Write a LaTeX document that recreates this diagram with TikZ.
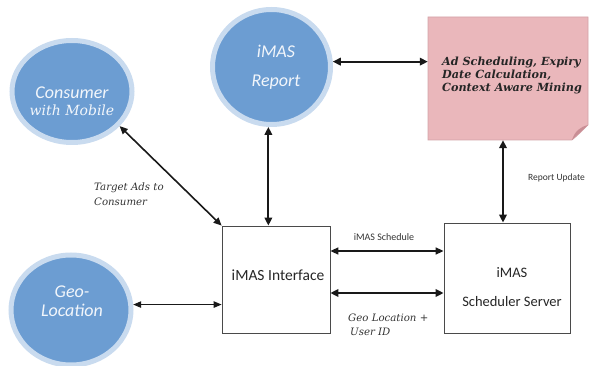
\documentclass[tikz,border=0pt]{standalone}
\usepackage{fontspec}
\usetikzlibrary{arrows.meta,shapes.geometric,calc}
\newfontfamily\calibri{Carlito}
\newfontfamily\dserif{DejaVu Serif}
\definecolor{bubble}{HTML}{6C9DD2}
\definecolor{bubblering}{HTML}{C9DBEF}
\definecolor{bubbletext}{HTML}{F2F6FB}
\definecolor{notefill}{HTML}{EAB7BB}
\definecolor{noteedge}{HTML}{D3A3A8}
\definecolor{notefold}{HTML}{C98E95}
\definecolor{boxedge}{HTML}{4A4A4A}
\definecolor{labeltext}{HTML}{333333}
\tikzset{
  bubble/.style={ellipse, fill=bubble, draw=bubblering, line width=5pt, inner sep=0pt},
  bubbletxt/.style={text=bubbletext, align=center, font=\calibri\itshape\fontsize{18}{21}\selectfont},
  block/.style={rectangle, draw=boxedge, line width=0.8pt, fill=white, inner sep=0pt},
  blocktxt/.style={align=center, text=black!85, font=\calibri\fontsize{14.5}{17}\selectfont},
  biarrow/.style={{Triangle[length=8pt,width=7.5pt]}-{Triangle[length=8pt,width=7.5pt]}, line width=2.2pt, black!90},
  biarrowmid/.style={{Triangle[length=8pt,width=7pt]}-{Triangle[length=8pt,width=7pt]}, line width=1.6pt, black!90},
  biarrowthin/.style={{Triangle[length=8pt,width=6.5pt]}-{Triangle[length=8pt,width=6.5pt]}, line width=1pt, black!90},
  flowlabel/.style={text=labeltext, align=left, inner sep=0pt},
}
\begin{document}
\begin{tikzpicture}[x=1pt,y=-1pt]
  \useasboundingbox (0,0) rectangle (592,366);

  % round actors
  \node[bubble, minimum width=120pt, minimum height=102pt] (cons) at (72,91.5) {};
  \node[bubbletxt] (constxt) at (72,101) {Consumer\\[-4pt]{\dserif\itshape\fontsize{14}{16}\selectfont with Mobile}};
  \node[bubble, minimum width=118pt, minimum height=115pt] (report) at (271.5,67) {};
  \node[bubbletxt] (reporttxt) at (276,67) {iMAS\\[8pt]Report};
  \node[bubble, minimum width=120pt, minimum height=110pt] (geo) at (71,310) {};
  \node[bubbletxt] (geotxt) at (72,301) {Geo-\\[-2pt]Location};

  % mining note with a folded corner
  \coordinate (nw) at (428,17);
  \coordinate (ne) at (588,17);
  \coordinate (sw) at (428,140);
  \filldraw[fill=notefill, draw=noteedge, line width=0.6pt]
    (nw) -- (ne) -- (588,125) .. controls (582,131) and (577,136) .. (572,140) -- (sw) -- cycle;
  \fill[notefold] (588,125) .. controls (580,127) and (575,131) .. (572,140)
    .. controls (578,134) and (583,130) .. (588,125) -- cycle;
  \node[minimum width=160pt, minimum height=123pt, inner sep=0pt] (note) at (508,78.5) {};
  \node[anchor=west, align=left, text=black!85, inner sep=0pt,
        font=\dserif\bfseries\itshape\fontsize{11.2}{12.8}\selectfont] (notetxt) at (442,75.5)
    {Ad Scheduling, Expiry\\Date Calculation,\\Context Aware Mining};

  % system blocks
  \node[block, minimum width=108pt, minimum height=107pt] (iface) at (276,279.5) {};
  \node[blocktxt, font=\calibri\fontsize{15.5}{18}\selectfont] (ifacetxt) at (278,275) {iMAS Interface};
  \node[block, minimum width=126pt, minimum height=110pt] (sched) at (507,278) {};
  \node[blocktxt] (schedtxt) at (512,287.5) {iMAS\\[12pt]Scheduler Server};

  % connectors
  \draw[biarrow] (report.5) -- (report.5 -| note.west);
  \draw[biarrow] (report.267) -- (report.267 |- iface.north);
  \draw[biarrowmid] (cons.-36) -- (iface.north west);
  \draw[biarrowthin] (geo.5) -- (geo.5 -| iface.west);
  \draw[biarrowmid] ([yshift=28.5pt]iface.east) -- ([yshift=28.5pt]iface.east -| sched.west);
  \draw[biarrow] ([yshift=-13.5pt]iface.east) -- ([yshift=-13.5pt]iface.east -| sched.west);
  \draw[biarrow] ([xshift=-5pt]note.south) -- ([xshift=-5pt]note.south |- sched.north);

  % connector labels
  \node[flowlabel, anchor=west, font=\dserif\itshape\fontsize{10.2}{15}\selectfont] (lbltarget) at (94,194)
    {Target Ads to\\Consumer};
  \node[flowlabel, anchor=center, font=\calibri\fontsize{10}{12}\selectfont] (lblsched) at (384,237) {iMAS Schedule};
  \node[flowlabel, anchor=west, font=\dserif\itshape\fontsize{10.2}{14}\selectfont] (lblgeo) at (348,325)
    {Geo Location +\\\hspace*{2pt}User ID};
  \node[flowlabel, anchor=west, font=\calibri\fontsize{9.5}{12}\selectfont] (lblreport) at (528,178) {Report Update};
\end{tikzpicture}
\end{document}
